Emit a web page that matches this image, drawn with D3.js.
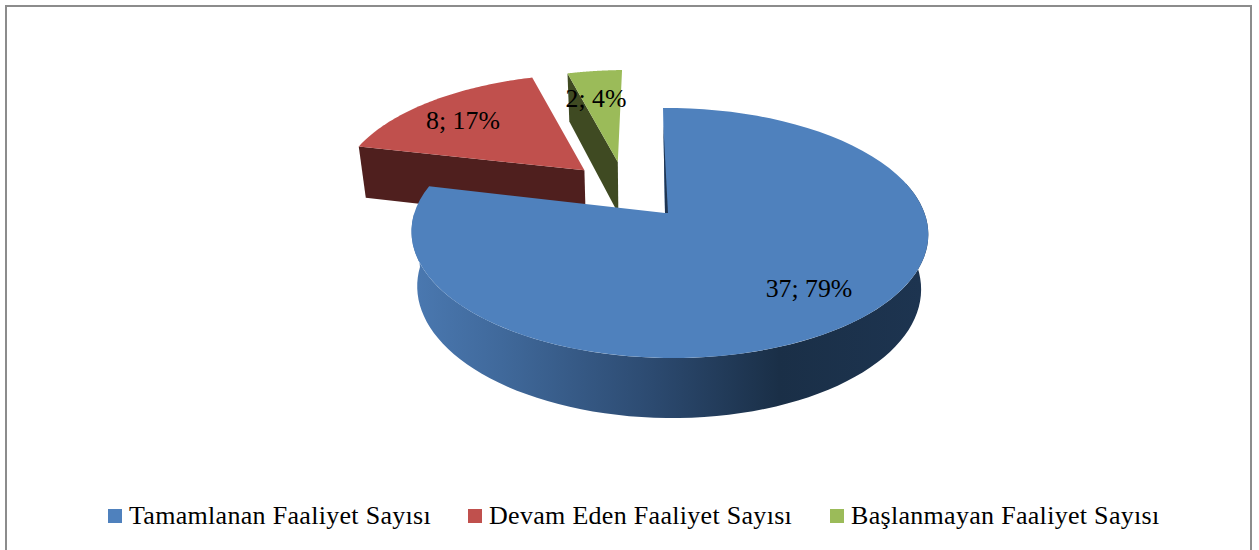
<!DOCTYPE html>
<html>
<head>
<meta charset="utf-8">
<script src="https://cdn.jsdelivr.net/npm/d3@7"></script>
<style>
  html, body { margin: 0; padding: 0; background: #fff; }
  svg { display: block; }
  text { font-family: "Liberation Serif", serif; fill: #000; }
  .label { font-size: 25.8px; }
  .legend { font-size: 26px; letter-spacing: 0.3px; }
</style>
</head>
<body>
<svg id="chart" width="1259" height="550"></svg>
<script>
const categories = ["Tamamlanan Faaliyet Sayısı", "Devam Eden Faaliyet Sayısı", "Başlanmayan Faaliyet Sayısı"];
const values = [37, 8, 2];
const topColors = ["#4f81bd", "#c0504d", "#9bbb59"];
const cutColors = ["#1f3552", "#4f1f1e", "#3f4a22"];

const W = 1259, H = 550;
const svg = d3.select("#chart");

// The 3D look: a perspective map of the unit circle onto the tilted pie top.
const CX = 665, CY = 213, R = 255, RY = 121.8;
const P = 0.16, Q = -0.0173;
function project(u, v, shear) {
  const w = 1 + P * v + Q * u;
  return [CX + (R * u + shear * v) / w, CY - RY * v / w];
}
// Same point on the bottom face of the slab.
function drop(pt) {
  return [640 + 0.975 * (pt[0] - 640), pt[1] + 48 + 0.042 * (pt[1] - 72)];
}
// Pulled-out slices, in unit circle coordinates, with their own size and lean.
const explode = [[0, 0], [-0.325, 0.373], [-0.195, 0.45]];
const sliceScale = [1, 1.03, 1];
const sliceShear = [-2.3, -8, -2.3];

const line = d3.line();
const pie = d3.pie().sort(null).value(d => d);
const arcs = pie(values);
const total = d3.sum(values);

function rimPoint(i, a) {
  const [ox, oy] = explode[i];
  return project(ox + sliceScale[i] * Math.sin(a), oy + sliceScale[i] * Math.cos(a), sliceShear[i]);
}
function apex(i) {
  return project(explode[i][0], explode[i][1], sliceShear[i]);
}
function rim(i, a0, a1) {
  const n = 80;
  return d3.range(n + 1).map(k => rimPoint(i, a0 + (a1 - a0) * k / n));
}

const defs = svg.append("defs");
const grad = defs.append("linearGradient").attr("id", "wall")
  .attr("gradientUnits", "userSpaceOnUse")
  .attr("x1", 415).attr("x2", 921).attr("y1", 0).attr("y2", 0);
[[0, "#4a78b0"], [0.17, "#40699b"], [0.47, "#2c4a70"], [0.72, "#1a2f47"], [1, "#1d3450"]]
  .forEach(s => grad.append("stop").attr("offset", s[0]).attr("stop-color", s[1]));

// chart frame, no bottom edge in the crop
svg.append("path")
  .attr("d", line([[6, H], [6, 6], [1251, 6], [1251, H]]))
  .attr("fill", "none").attr("stroke", "#8c8c8c").attr("stroke-width", 2);

function drawSlice(i) {
  const d = arcs[i];
  const top = [apex(i), ...rim(i, d.startAngle, d.endAngle)];
  if (i > 0) {
    // cut face along the slice's start edge
    const a = apex(i), b = rimPoint(i, d.startAngle);
    svg.append("path").attr("d", line([a, b, drop(b), drop(a)]) + "Z")
      .attr("fill", cutColors[i]);
  } else {
    // outer wall of the big slice
    const upper = rim(0, Math.PI * 0.42, Math.min(d.endAngle, Math.PI * 1.5));
    svg.append("path").attr("d", line([...upper, ...upper.map(drop).reverse()]) + "Z")
      .attr("fill", "url(#wall)");
  }
  svg.append("path").attr("d", line(top) + "Z").attr("fill", topColors[i]);
  if (i === 0) {
    // sliver of the inner face at twelve o'clock
    const a = apex(0), b = project(0, 0.82, sliceShear[0]);
    svg.append("path").attr("d", line([b, a, [a[0] + 3, a[1]]]) + "Z").attr("fill", cutColors[0]);
  }
}
[1, 2, 0].forEach(drawSlice);

// data labels
const labelPos = [[809, 297], [463, 129], [596, 107]];
values.forEach((v, i) => {
  svg.append("text").attr("class", "label")
    .attr("x", labelPos[i][0]).attr("y", labelPos[i][1])
    .attr("text-anchor", "middle")
    .text(`${v}; ${Math.round(v / total * 100)}%`);
});

// legend
const legendX = [108, 468, 830];
categories.forEach((c, i) => {
  svg.append("rect").attr("x", legendX[i]).attr("y", 509)
    .attr("width", 14).attr("height", 14).attr("fill", topColors[i]);
  svg.append("text").attr("class", "legend")
    .attr("x", legendX[i] + 21).attr("y", 524).text(c);
});
</script>
</body>
</html>
